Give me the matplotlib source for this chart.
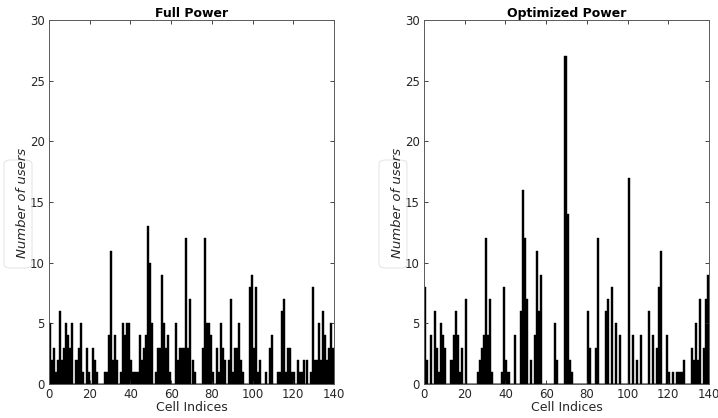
import numpy as np
import matplotlib
matplotlib.use('Agg')
import matplotlib.pyplot as plt
from matplotlib.patches import FancyBboxPatch

# Number of users per cell
full_power = [5, 2, 3, 1, 2, 6, 2, 3, 5, 4, 3, 5, 0, 2, 3, 5, 1, 0, 3, 1,
              0, 3, 2, 1, 0, 0, 0, 1, 1, 4, 11, 2, 4, 2, 0, 1, 5, 4, 5, 5,
              2, 1, 1, 1, 4, 2, 3, 4, 13, 10, 5, 0, 1, 3, 3, 9, 5, 3, 4, 1,
              0, 0, 5, 2, 3, 3, 3, 12, 3, 7, 2, 1, 0, 0, 0, 3, 12, 5, 5, 4,
              1, 0, 3, 1, 5, 3, 2, 0, 2, 7, 1, 3, 3, 5, 2, 1, 0, 0, 8, 9,
              3, 8, 1, 2, 0, 0, 1, 0, 3, 4, 0, 0, 1, 1, 6, 7, 1, 3, 3, 1,
              1, 0, 2, 1, 1, 2, 2, 0, 1, 8, 2, 2, 5, 2, 6, 4, 2, 3, 5, 3]

optimized_power = [8, 2, 0, 4, 0, 6, 3, 1, 5, 4, 3, 0, 0, 2, 4, 6, 4, 1, 3, 0,
                   7, 0, 0, 0, 0, 0, 1, 2, 3, 4, 12, 4, 7, 1, 0, 0, 0, 0, 1, 8,
                   2, 1, 0, 0, 4, 0, 0, 6, 16, 12, 7, 0, 2, 0, 4, 11, 6, 9, 0, 0,
                   0, 0, 0, 0, 5, 2, 0, 0, 0, 27, 14, 2, 1, 0, 0, 0, 0, 0, 0, 0,
                   6, 3, 0, 0, 3, 12, 0, 0, 0, 6, 7, 0, 8, 0, 5, 0, 4, 0, 0, 0,
                   17, 0, 4, 0, 2, 0, 4, 0, 0, 0, 6, 0, 4, 0, 3, 8, 11, 0, 0, 4,
                   1, 0, 1, 0, 1, 1, 1, 2, 0, 0, 0, 3, 2, 5, 2, 7, 0, 3, 7, 9]

titles = ['Full Power', 'Optimized Power']
x_ticks = np.arange(0, 141, 20)
y_ticks = np.arange(0, 31, 5)

axis_color = '#262626'
W, H = 718, 418
fig = plt.figure(figsize=(W / 100, H / 100), dpi=100)

panels = [(49, full_power), (424, optimized_power)]
for (left_px, counts), title in zip(panels, titles):
    ax = fig.add_axes([left_px / W, (H - 384) / H, 285 / W, 364 / H])
    cells = np.arange(len(counts)) + 0.5
    ax.bar(cells, counts, width=1.0, color='black', edgecolor='black', linewidth=0.3)
    ax.axhline(0, color='#9a9a9a', linewidth=1.2, zorder=0)
    ax.set_xlim(0, 140)
    ax.set_ylim(0, 30)
    ax.set_xticks(x_ticks)
    ax.set_yticks(y_ticks)
    ax.tick_params(direction='in', length=3, width=0.6, colors=axis_color,
                   labelsize=8.5, top=True, right=True, pad=3)
    for sp in ax.spines.values():
        sp.set_color('#5a5a5a')
        sp.set_linewidth(0.7)
    ax.set_title(title, fontsize=9, fontweight='bold', pad=2)
    ax.set_xlabel('Cell Indices', fontsize=9, color=axis_color, labelpad=0)

    # y label with faint rounded box, as in the reference
    box_x = left_px - 45
    fig.patches.append(FancyBboxPatch((box_x / W, (H - 268) / H), 28 / W, 108 / H,
                                      boxstyle='round,pad=0,rounding_size=0.01',
                                      transform=fig.transFigure, fc='none',
                                      ec='#e6e6e6', lw=0.8))
    fig.text((left_px - 26) / W, (H - 203) / H, 'Number of users', rotation=90,
             style='italic', fontsize=9.5, color=axis_color, ha='center', va='center')

fig.savefig('out.png', dpi=100)
